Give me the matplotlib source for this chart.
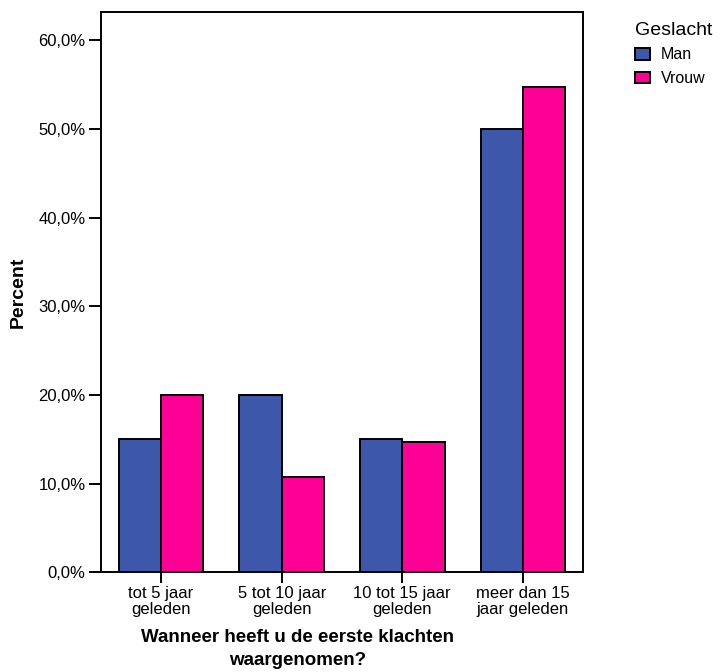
import matplotlib.pyplot as plt
from matplotlib.ticker import FuncFormatter
import numpy as np

plt.rcParams['font.family'] = ['Liberation Sans', 'DejaVu Sans']

categories = ["tot 5 jaar\ngeleden", "5 tot 10 jaar\ngeleden",
              "10 tot 15 jaar\ngeleden", "meer dan 15\njaar geleden"]
man = [15.0, 20.0, 15.0, 50.0]
vrouw = [20.0, 10.7, 14.7, 54.7]
yticks = [0, 10, 20, 30, 40, 50, 60]

fig = plt.figure(figsize=(7.2, 6.72), dpi=100)
ax = fig.add_axes([0.140, 0.1484, 0.670, 0.834])

x = np.arange(len(categories))
w = 0.35
ax.bar(x - w / 2, man, w, color='#3d58ab', edgecolor='black', linewidth=1.4, label='Man')
ax.bar(x + w / 2, vrouw, w, color='#ff0096', edgecolor='black', linewidth=1.4, label='Vrouw')

ax.set_xlim(-0.5, 3.5)
ax.set_ylim(0, 63.2)
ax.set_yticks(yticks)
ax.yaxis.set_major_formatter(FuncFormatter(lambda v, p: ("%.1f%%" % v).replace('.', ',')))
ax.set_xticks(x)
ax.set_xticklabels(categories, fontsize=12, linespacing=1.05)
ax.tick_params(axis='y', labelsize=12, length=9, width=1.4, direction='out', pad=2)
ax.tick_params(axis='x', length=8, width=1.4, direction='out', pad=2)
for s in ax.spines.values():
    s.set_linewidth(1.4)

ax.set_ylabel("Percent", fontsize=14, fontweight='bold')
ax.yaxis.set_label_coords(-0.153, 0.5)
ax.set_xlabel("Wanneer heeft u de eerste klachten\nwaargenomen?", fontsize=13.5,
              fontweight='bold', linespacing=1.45)
ax.xaxis.set_label_coords(0.407, -0.102)
ax.xaxis.label.set_va('top')

leg = ax.legend(loc='upper left', bbox_to_anchor=(0.882, 0.968),
                bbox_transform=fig.transFigure, frameon=False, title='Geslacht',
                fontsize=11.5, title_fontsize=14, handlelength=0.95, handleheight=0.75,
                handletextpad=0.65, labelspacing=0.55, borderpad=0, borderaxespad=0,
                alignment='left')

fig.savefig("out.png", dpi=100)
